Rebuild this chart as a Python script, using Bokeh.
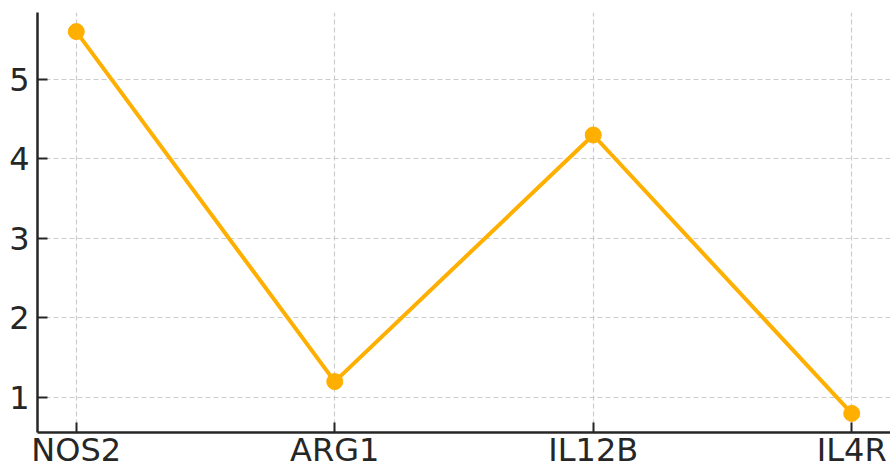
from bokeh.plotting import figure
from bokeh.models import Range1d, FixedTicker
from bokeh.embed import file_html
from bokeh.resources import INLINE

genes = ["NOS2", "ARG1", "IL12B", "IL4R"]
values = [5.6, 1.2, 4.3, 0.8]
y_ticks = [1, 2, 3, 4, 5]

xs = list(range(len(genes)))

p = figure(width=890, height=471, output_backend="svg", toolbar_location=None,
           x_range=Range1d(-0.15, 3.15), y_range=Range1d(0.56, 5.84),
           min_border_left=37, min_border_top=12, min_border_right=0, min_border_bottom=39)
p.outline_line_color = None
p.background_fill_color = "white"
p.border_fill_color = "white"

color = "#FFAF00"
p.line(xs, values, line_color=color, line_width=4)
p.scatter(xs, values, size=16, fill_color=color, line_color=color)

p.xaxis.ticker = FixedTicker(ticks=xs)
p.xaxis.major_label_overrides = {i: g for i, g in enumerate(genes)}
p.yaxis.ticker = FixedTicker(ticks=y_ticks)

for ax in (p.xaxis, p.yaxis):
    ax.axis_line_color = "#262626"
    ax.axis_line_width = 2.5
    ax.major_tick_line_color = "#262626"
    ax.major_tick_line_width = 2
    ax.major_tick_in = 10
    ax.major_tick_out = 0
    ax.minor_tick_line_color = None
    ax.major_label_text_font = "DejaVu Sans"
    ax.major_label_text_font_size = "32px"
    ax.major_label_text_color = "#262626"
p.xaxis.major_label_standoff = -2
p.yaxis.major_label_standoff = 8

for g in (p.xgrid, p.ygrid):
    g.grid_line_color = "#cccccc"
    g.grid_line_width = 1.2
    g.grid_line_dash = "5 3"

open("out.html", "w").write(file_html(p, INLINE))
